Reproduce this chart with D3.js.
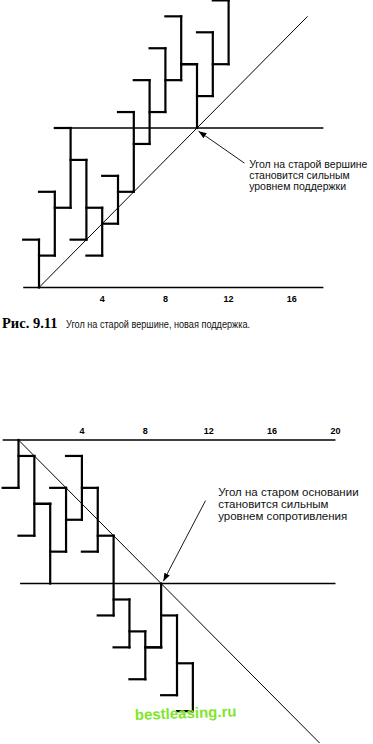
<!DOCTYPE html>
<meta charset="utf-8">
<style>

body {
  margin: 0;
  background: #fff;
}

svg {
  display: block;
}

.bars line {
  stroke: #000;
  stroke-width: 2.2px;
  stroke-linecap: square;
}

.level {
  stroke: #000;
  stroke-width: 1.4px;
}

.angle {
  fill: none;
  stroke: #000;
  stroke-width: 1px;
}

.pointer {
  stroke: #000;
  stroke-width: 0.9px;
}

.tick-label {
  font: bold 9px "Liberation Sans", Arial, sans-serif;
  text-anchor: middle;
}

.note {
  font-family: "Liberation Sans", Arial, sans-serif;
  fill: #111;
}

</style>
<svg width="373" height="744"></svg>
<script src="https://d3js.org/d3.v7.min.js"></script>
<script>

// Fig. 9.11 - rising market, angle meets the old top
var topDays  = [0, 1, 2, 3, 4, 5, 6, 7, 8, 9, 10, 11, 12];
var topHigh  = [3, 6, 10, 8, 5, 7, 11, 13, 15, 17, 14, 16, 18];
var topLow   = [0, 2, 5, 3, 2, 4, 6, 9, 11, 13, 10, 12, 14];
var topOpen  = [3, 6, 10, 3, 2, 7, 11, 13, 15, 17, 14, 16, 18];
var topClose = [2, 5, 8, 5, 4, 6, 9, 11, 13, 14, 12, 14, null];
var topTicks = [4, 8, 12, 16];
var topNote  = ["Угол на старой вершине", "становится сильным", "уровнем поддержки"];

// falling market, angle meets the old bottom
var botDays  = [0, 1, 2, 3, 4, 5, 6, 7, 8, 9, 10, 11];
var botHigh  = [0, -1, -4, -3, -1, -3, -6, -10, -12, -9, -11, -14];
var botLow   = [-3, -6, -9, -7, -5, -7, -11, -13, -15, -13, -16, -17];
var botOpen  = [-3, -6, -4, -3, -1, -7, -11, -13, -15, -13, -16, -17];
var botClose = [-1, -4, -7, -5, -3, -6, -10, -12, -13, -11, -14, null];
var botTicks = [4, 8, 12, 16, 20];
var botNote  = ["Угол на старом основании", "становится сильным", "уровнем сопротивления"];

var svg = d3.select("svg");

svg.append("defs").append("marker")
    .attr("id", "head")
    .attr("markerUnits", "userSpaceOnUse")
    .attr("markerWidth", 9)
    .attr("markerHeight", 6)
    .attr("refX", 8)
    .attr("refY", 3)
    .attr("orient", "auto")
  .append("path")
    .attr("d", "M0,0L8,3L0,6Z")
    .attr("fill", "#000");

var xTop = d3.scaleLinear().domain([0, 16]).range([39, 39 + 16 * 15.8]),
    yTop = d3.scaleLinear().domain([0, 18]).range([287.5, 287.5 - 18 * 15.95]);

var xBot = d3.scaleLinear().domain([0, 20]).range([18.5, 18.5 + 20 * 15.85]),
    yBot = d3.scaleLinear().domain([0, -18]).range([440, 440 + 18 * 15.95]);

function drawBars(g, x, y, days, high, low, open, close) {
  var step = x(1) - x(0);
  days.forEach(function(d, i) {
    g.append("line")
        .attr("x1", x(d)).attr("x2", x(d))
        .attr("y1", y(high[i])).attr("y2", y(low[i]));
    g.append("line")
        .attr("x1", x(d) - step).attr("x2", x(d))
        .attr("y1", y(open[i])).attr("y2", y(open[i]));
    if (close[i] != null) {
      g.append("line")
          .attr("x1", x(d)).attr("x2", x(d) + step)
          .attr("y1", y(close[i])).attr("y2", y(close[i]));
    }
  });
}

function segment(g, cls, x, y, a, b) {
  return g.append("line")
      .attr("class", cls)
      .attr("x1", x(a[0])).attr("y1", y(a[1]))
      .attr("x2", x(b[0])).attr("y2", y(b[1]));
}

// ---- top chart
var topG = svg.append("g");

segment(topG, "level", xTop, yTop, [-1, 0], [18, 0]);
segment(topG, "level", xTop, yTop, [1, 10], [18, 10]);
segment(topG, "angle", xTop, yTop, [0, 0], [17, 17]);

drawBars(topG.append("g").attr("class", "bars"), xTop, yTop,
    topDays, topHigh, topLow, topOpen, topClose);

topG.selectAll(".tick-label")
  .data(topTicks)
  .enter().append("text")
    .attr("class", "tick-label")
    .attr("x", function(d) { return xTop(d); })
    .attr("y", 302)
    .text(function(d) { return d; });

segment(topG, "pointer", xTop, yTop, [13, 7.8], [10.1, 9.8])
    .attr("marker-end", "url(#head)");

topG.append("text")
    .attr("class", "note")
    .attr("font-size", 10.5)
  .selectAll("tspan")
  .data(topNote)
  .enter().append("tspan")
    .attr("x", xTop(13.3))
    .attr("y", function(d, i) { return 168 + i * 11; })
    .text(function(d) { return d; });

svg.append("text")
    .attr("x", 2)
    .attr("y", 328)
    .style("font", "bold 14.5px 'Liberation Serif', 'Times New Roman', serif")
    .text("Рис. 9.11");

svg.append("text")
    .attr("class", "note")
    .attr("x", 66)
    .attr("y", 328)
    .attr("font-size", 11.5)
    .attr("textLength", 184)
    .attr("lengthAdjust", "spacingAndGlyphs")
    .text("Угол на старой вершине, новая поддержка.");

// ---- bottom chart
var botG = svg.append("g");

segment(botG, "level", xBot, yBot, [-1, 0], [20, 0]);
segment(botG, "level", xBot, yBot, [0.1, -9], [20, -9]);
segment(botG, "angle", xBot, yBot, [0, 0], [19, -19]);

drawBars(botG.append("g").attr("class", "bars"), xBot, yBot,
    botDays, botHigh, botLow, botOpen, botClose);

botG.selectAll(".tick-label")
  .data(botTicks)
  .enter().append("text")
    .attr("class", "tick-label")
    .attr("x", function(d) { return xBot(d); })
    .attr("y", 434)
    .text(function(d) { return d; });

segment(botG, "pointer", xBot, yBot, [11.8, -3.8], [9.14, -8.85])
    .attr("marker-end", "url(#head)");

botG.append("text")
    .attr("class", "note")
    .attr("font-size", 11.5)
  .selectAll("tspan")
  .data(botNote)
  .enter().append("tspan")
    .attr("x", xBot(12.6))
    .attr("y", function(d, i) { return 496 + i * 12; })
    .text(function(d) { return d; });

// scan watermark
svg.append("text")
    .attr("transform", "translate(135,720) rotate(-2)")
    .style("font", "bold 15px 'Liberation Sans', Arial, sans-serif")
    .attr("fill", "#7fe62c")
    .text("bestleasing.ru");

</script>
